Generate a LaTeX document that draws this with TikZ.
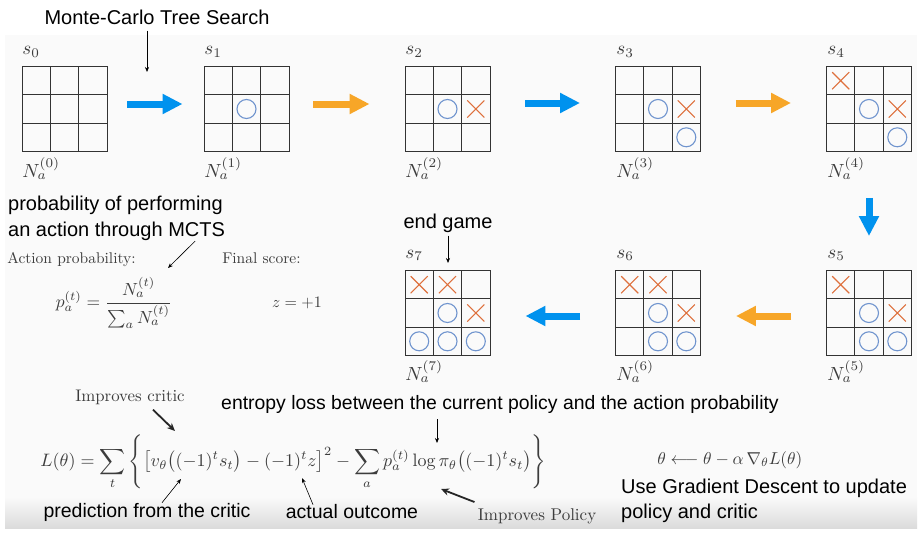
\documentclass[tikz,border=0pt]{standalone}
\usepackage{fontspec}
\newfontfamily\arialfont{Liberation Sans}
\usetikzlibrary{arrows.meta,shapes.misc}
\definecolor{arrowblue}{RGB}{0,146,238}
\definecolor{arroworange}{RGB}{247,166,40}
\definecolor{oblue}{RGB}{112,148,206}
\definecolor{xorange}{RGB}{222,112,60}
\definecolor{inkgray}{RGB}{60,60,60}

\begin{document}
\begin{tikzpicture}[x=1pt, y=-1pt,
	board/.style={draw=black!80, line width=0.9pt, minimum size=85pt, inner sep=0, path picture={
		\draw[black!80, line width=0.9pt]
			([xshift=28.33pt]path picture bounding box.north west) -- ([xshift=28.33pt]path picture bounding box.south west)
			([xshift=56.67pt]path picture bounding box.north west) -- ([xshift=56.67pt]path picture bounding box.south west)
			([yshift=-28.33pt]path picture bounding box.north west) -- ([yshift=-28.33pt]path picture bounding box.north east)
			([yshift=-56.67pt]path picture bounding box.north west) -- ([yshift=-56.67pt]path picture bounding box.north east);}},
	omark/.style={circle, draw=oblue, line width=1.1pt, minimum size=19pt, inner sep=0},
	xmark/.style={cross out, draw=xorange, line width=1.1pt, minimum size=16pt, inner sep=0},
	state/.style={scale=1.9, text=inkgray, inner sep=0, anchor=base west},
	note/.style={font=\arialfont\fontsize{20}{26}\selectfont, inner sep=0},
	serif/.style={scale=1.55, text=inkgray, inner sep=0},
	bigarrow/.style={line width=7pt, -{Triangle[length=20pt,width=19pt]}, shorten <=35pt, shorten >=35pt},
	pointer/.style={line width=0.6pt, -{Stealth[length=5pt,width=4pt]}},
	heavy/.style={line width=1.8pt, black!85, -{Stealth[length=8pt,width=7pt]}}]

	\fill[white] (0,0) rectangle (921,535);
	\useasboundingbox (0,0) rectangle (921,535);
	\fill[black!2] (5,35) rectangle (917,497);
	\shade[top color=black!2, bottom color=black!14] (5,497) rectangle (917,528);

	% boards
	\node (b0) at (64.5,109) [board] {};
	\node (b1) at (246.5,109) [board] {};
	\node (b2) at (447.5,109) [board] {};
	\node (b3) at (658,109) [board] {};
	\node (b4) at (869,109) [board] {};
	\node (b5) at (869,313) [board] {};
	\node (b6) at (658,313) [board] {};
	\node (b7) at (447.5,313) [board] {};

	% marks
	\node (b1o1) at (246.5,109) [omark] {};
	\node (b2o1) at (447.5,109) [omark] {};
	\node (b2x1) at (475.8,109) [xmark] {};
	\node (b3o1) at (658,109) [omark] {};
	\node (b3x1) at (686.3,109) [xmark] {};
	\node (b3o2) at (686.3,137.3) [omark] {};
	\node (b4x1) at (840.7,80.7) [xmark] {};
	\node (b4o1) at (869,109) [omark] {};
	\node (b4x2) at (897.3,109) [xmark] {};
	\node (b4o2) at (897.3,137.3) [omark] {};
	\node (b5x1) at (840.7,284.7) [xmark] {};
	\node (b5o1) at (869,313) [omark] {};
	\node (b5x2) at (897.3,313) [xmark] {};
	\node (b5o2) at (869,341.3) [omark] {};
	\node (b5o3) at (897.3,341.3) [omark] {};
	\node (b6x1) at (629.7,284.7) [xmark] {};
	\node (b6x2) at (658,284.7) [xmark] {};
	\node (b6o1) at (658,313) [omark] {};
	\node (b6x3) at (686.3,313) [xmark] {};
	\node (b6o2) at (658,341.3) [omark] {};
	\node (b6o3) at (686.3,341.3) [omark] {};
	\node (b7x1) at (419.2,284.7) [xmark] {};
	\node (b7x2) at (447.5,284.7) [xmark] {};
	\node (b7o1) at (447.5,313) [omark] {};
	\node (b7x3) at (475.8,313) [xmark] {};
	\node (b7o2) at (419.2,341.3) [omark] {};
	\node (b7o3) at (447.5,341.3) [omark] {};
	\node (b7o4) at (475.8,341.3) [omark] {};

	% state and count labels
	\node (s0) at (22,55) [state] {$s_0$};
	\node (s1) at (204,55) [state] {$s_1$};
	\node (s2) at (405,55) [state] {$s_2$};
	\node (s3) at (616,55) [state] {$s_3$};
	\node (s4) at (827,55) [state] {$s_4$};
	\node (s5) at (827,258) [state] {$s_5$};
	\node (s6) at (616,258) [state] {$s_6$};
	\node (s7) at (405,258) [state] {$s_7$};
	\node (n0) at (22,177) [state] {$N_a^{(0)}$};
	\node (n1) at (204,177) [state] {$N_a^{(1)}$};
	\node (n2) at (405,177) [state] {$N_a^{(2)}$};
	\node (n3) at (616,177) [state] {$N_a^{(3)}$};
	\node (n4) at (827,177) [state] {$N_a^{(4)}$};
	\node (n5) at (827,380) [state] {$N_a^{(5)}$};
	\node (n6) at (616,380) [state] {$N_a^{(6)}$};
	\node (n7) at (405,380) [state] {$N_a^{(7)}$};

	% moves
	\draw[bigarrow, arrowblue, shorten <=20pt, shorten >=21pt] ([yshift=5pt]b0.east) -- ([yshift=5pt]b1.west);
	\draw[bigarrow, arroworange, shorten <=24pt] ([yshift=5pt]b1.east) -- ([yshift=5pt]b2.west);
	\draw[bigarrow, arrowblue] ([yshift=6pt]b2.east) -- ([yshift=6pt]b3.west);
	\draw[bigarrow, arroworange] ([yshift=6pt]b3.east) -- ([yshift=6pt]b4.west);
	\draw[bigarrow, arrowblue, shorten <=46pt, shorten >=34pt] (b4.south) -- (b5.north);
	\draw[bigarrow, arroworange] ([yshift=-3pt]b5.west) -- ([yshift=-3pt]b6.east);
	\draw[bigarrow, arrowblue] ([yshift=-3pt]b6.west) -- ([yshift=-3pt]b7.east);

	% notes and formulas
	\node (mcts) at (157,17) [note] {Monte-Carlo Tree Search};
	\coordinate (mctstip) at (147,72);
	\draw[pointer, shorten <=6pt] (mcts.south -| mctstip) -- (mctstip);

	\node (prob) at (8,196) [note, anchor=north west, align=left] {probability of performing\\an action through MCTS};
	\coordinate (probtip) at (168,268);
	\draw[pointer] ([xshift=-30pt]prob.south east) -- (probtip);

	\node (actlabel) at (7,263) [serif, anchor=base west] {Action probability:};
	\node (scorelabel) at (222,263) [serif, anchor=base west] {Final score:};
	\node (peq) at (114,303) [serif, scale=1.75/1.55] {$\displaystyle p_a^{(t)} = \frac{N_a^{(t)}}{\sum_a N_a^{(t)}}$};
	\node (zeq) at (297,303) [serif, scale=1.6/1.55] {$z = +1$};

	\node (endgame) at (448,223) [note] {end game};
	\coordinate (endtip) at (448,263);
	\draw[pointer, shorten <=3pt] (endgame.south) -- (endtip);

	\node (critic) at (130,397) [serif, scale=1.68/1.55] {Improves critic};
	\coordinate (critictip) at (175,431);
	\draw[heavy] ([xshift=23pt, yshift=-5pt]critic.south) -- (critictip);

	\node (entropy) at (500,404) [note, font=\arialfont\fontsize{19.4}{24}\selectfont] {entropy loss between the current policy and the action probability};
	\coordinate (entropytip) at (437,443);
	\draw[pointer, shorten <=6pt] (entropy.south -| entropytip) -- (entropytip);

	\node (loss) at (40,462) [serif, scale=1.8/1.55, anchor=west] {$\displaystyle L(\theta) = \sum_t \Bigg\{ \big[ v_\theta\big((-1)^t s_t\big) - (-1)^t z \big]^2 - \sum_a p_a^{(t)} \log \pi_\theta\big((-1)^t s_t\big) \Bigg\}$};

	\node (pred) at (147,512) [note, font=\arialfont\fontsize{19.5}{24}\selectfont] {prediction from the critic};
	\coordinate (predtip) at (181,479);
	\draw[pointer] ([xshift=15pt]pred.north) -- (predtip);

	\node (outcome) at (352,512) [note, font=\arialfont\fontsize{19.5}{24}\selectfont] {actual outcome};
	\coordinate (outcometip) at (302,478);
	\draw[pointer] ([xshift=-39pt]outcome.north) -- (outcometip);

	\node (policy) at (537,516) [serif, scale=1.7/1.55] {Improves Policy};
	\coordinate (policytip) at (441,489);
	\draw[heavy] ([xshift=-3pt, yshift=6pt]policy.north west) -- (policytip);

	\node (update) at (657,460) [serif, scale=1.72/1.55, anchor=west] {$\theta \longleftarrow \theta - \alpha\,\nabla_\theta L(\theta)$};
	\node (gd) at (621,479) [note, anchor=north west, align=left, font=\arialfont\fontsize{20}{25}\selectfont] {Use Gradient Descent to update\\policy and critic};
\end{tikzpicture}
\end{document}
